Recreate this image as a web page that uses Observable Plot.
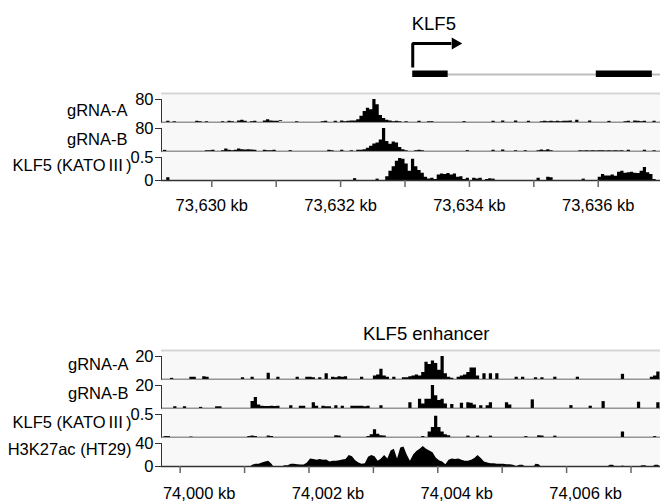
<!DOCTYPE html>
<html><head><meta charset="utf-8">
<script src="https://cdn.jsdelivr.net/npm/d3@7"></script>
<script src="https://cdn.jsdelivr.net/npm/@observablehq/plot@0.6"></script>
<style>
html,body{margin:0;padding:0;background:#fff;}
#chart{position:relative;width:660px;height:501px;overflow:hidden;}
#chart svg{position:absolute;left:0;overflow:visible;}
</style></head><body><div id="chart"></div>
<script>
// ---------------- data ----------------
const BIN = 0.05; // kb per signal bin

// top panel (KLF5 promoter)
const topDomain = [73629.219, 73636.967];
const topTicks = [73630, 73631, 73632, 73633, 73634, 73635, 73636];
const topTickLabels = [73630, 73632, 73634, 73636];
const topTrackNames = ["gRNA-A", "gRNA-B", "KLF5 (KATOⅢ)"];
const topTrackMax = [80, 80, 0.5];
const geneName = "KLF5";
const geneTSS = 73633.12;
const geneArrowBase = 73633.72;
const geneArrowHead = 73633.78;
const geneExonStart = [73633.12, 73635.97];
const geneExonEnd = [73633.67, 73636.84];
const geneEnd = 73638.0;

// runs: [start kb, [bin values ...]]
const topGrnaA = [
  [73629.30, [4, 0, 3]],
  [73629.75, [4, 3, 0, 3]],
  [73630.15, [3, 0, 4, 3, 0, 5, 8, 4]],
  [73630.60, [3, 4, 0, 0, 5, 10, 5, 4, 4]],
  [73631.05, [3, 0, 0, 0, 0, 3]],
  [73631.70, [3, 4, 0, 0, 4, 0, 5, 3, 4, 5, 5, 10, 22, 38, 50, 44, 80, 62, 24, 14, 8, 5, 3, 4, 3, 0, 3]],
  [73633.20, [4, 0, 0, 3, 3]],
  [73633.90, [3]],
  [73634.35, [4, 0, 0, 5, 0, 0, 0, 5, 0, 0, 0, 4]],
  [73635.10, [3, 4, 3, 4, 3, 4, 3, 4, 4, 5, 0, 8, 0, 0, 0, 5]],
  [73636.15, [4]],
  [73636.40, [3, 4, 0, 5, 4, 3, 4, 0, 0, 4]]
];
const topGrnaB = [
  [73629.25, [4]],
  [73629.90, [3, 3, 4]],
  [73630.15, [3, 9, 4, 3, 4, 9, 6, 5, 6, 5, 4, 0, 0, 4, 3, 3, 4]],
  [73631.20, [3]],
  [73631.80, [4, 3, 0, 0, 4, 0, 0, 3, 0, 4, 4, 6, 11, 18, 26, 30, 40, 80, 35, 25, 33, 30, 14, 6, 3]],
  [73633.15, [3, 4, 3]],
  [73633.95, [3]],
  [73634.35, [4, 0, 0, 5, 0, 0, 0, 3, 0, 0, 3]],
  [73635.05, [3, 5, 3, 6, 3]],
  [73635.70, [3, 2, 3, 2, 3, 2, 3, 3, 2, 3, 2, 3, 2, 3, 0, 4, 0, 0, 0, 0, 4, 0, 0, 3]]
];
const topKlf5 = [
  [73629.30, [0.06]],
  [73632.20, [0.04]],
  [73632.55, [0.03]],
  [73632.70, [0.08, 0.2, 0.3, 0.42, 0.48, 0.46, 0.36, 0.2, 0.46, 0.3, 0.22, 0.16, 0.07, 0.03, 0.05, 0.02, 0.12, 0.14, 0.13, 0.15, 0.12, 0.14, 0.07, 0.08, 0.02, 0.05, 0, 0.05, 0.03, 0.05, 0, 0.02, 0.04]],
  [73634.35, [0.03]],
  [73635.05, [0.05, 0, 0, 0.07, 0.06]],
  [73635.75, [0.03]],
  [73636.00, [0.07, 0.13, 0.1, 0.1, 0.12, 0.09, 0.18, 0.2, 0.16, 0.17, 0.18, 0.16, 0.15, 0.2, 0.28, 0.17, 0.13, 0.02]]
];

// bottom panel (KLF5 enhancer)
const botDomain = [73999.710, 74007.458];
const botTicks = [74000, 74001, 74002, 74003, 74004, 74005, 74006, 74007];
const botTickLabels = [74000, 74002, 74004, 74006];
const botTrackNames = ["gRNA-A", "gRNA-B", "KLF5 (KATOⅢ)", "H3K27ac (HT29)"];
const botTrackMax = [20, 20, 0.5, 40];
const enhancerName = "KLF5 enhancer";
const enhancerCenter = 74003.82;

const botGrnaA = [
  [73999.85, [1]],
  [74000.15, [2, 2, 0, 0, 2.5, 2]],
  [74000.95, [1.5, 0, 0, 2]],
  [74001.35, [5.5, 0, 0, 2]],
  [74001.80, [2, 0, 0, 2, 2, 1.5, 0, 1.5, 0, 5, 0, 2, 1.5, 2.5, 2, 2.5]],
  [74002.80, [2, 0, 0, 0, 3, 4, 9, 3, 2, 0, 2, 0, 0, 1.5, 1.5, 2.5, 3, 4, 3, 6, 15, 13, 16, 14, 8, 20, 5, 2, 1, 0, 2, 3, 4, 6, 10, 10, 3, 0, 5, 0, 5, 0, 5]],
  [74005.20, [2, 0, 2]],
  [74005.50, [1.5, 0, 1.5]],
  [74005.80, [2]],
  [74006.15, [2]],
  [74006.85, [4.5]],
  [74007.30, [2, 3, 6.5]]
];
const botGrnaB = [
  [73999.90, [1.5, 0, 0, 1.5]],
  [74000.30, [1]],
  [74000.55, [1.5, 1.5]],
  [74001.10, [6, 9.5, 3, 2, 1.8, 1.8, 2, 1.8, 2]],
  [74001.70, [2.5, 0, 0, 2, 2, 0, 0, 5, 2, 0, 2, 1.5, 1.5, 0, 2.5, 0, 2, 0, 0, 2, 2, 2, 2, 1.5, 2, 0, 0, 0, 2.5]],
  [74003.55, [5, 0, 0, 8, 4, 8, 8, 20, 11, 7, 8, 4, 0, 3.5, 0, 0, 4.5, 0, 5, 4.5, 3, 0, 2.5, 0, 2.5, 5]],
  [74005.05, [5, 3]],
  [74005.45, [7.5]],
  [74006.05, [2.5]],
  [74006.35, [2]],
  [74006.55, [6]],
  [74007.10, [5.5]],
  [74007.40, [5]]
];
const botKlf5 = [
  [73999.75, [0.02, 0.02]],
  [74000.15, [0.01]],
  [74001.05, [0.02, 0.03, 0.02]],
  [74001.35, [0.03, 0.02]],
  [74002.40, [0.04, 0.03]],
  [74002.90, [0.02, 0.06, 0.17, 0.07, 0.04, 0.03]],
  [74003.75, [0.02, 0, 0.12, 0.22, 0.46, 0.22, 0.12, 0.06, 0.04]],
  [74004.45, [0.03]],
  [74004.60, [0.03]],
  [74004.80, [0.03]],
  [74005.35, [0.02]],
  [74005.55, [0.04, 0.03]],
  [74005.80, [0.03]],
  [74006.85, [0.12]],
  [74007.35, [0.02]]
];
const botH3k27ac = [
  [74001.10, [2, 4, 4, 6, 8, 9, 4]],
  [74001.60, [1.5, 1.5, 4, 4, 3, 2.5, 2.5, 6, 13, 12, 11, 12, 11, 11.5, 8, 9, 9, 10, 11.5, 12, 19, 17, 10, 6, 4, 5, 16, 19, 17, 9, 13, 19, 13, 27, 30, 13, 32, 34, 20, 9, 20, 26, 30, 35, 30, 27, 24, 15, 10, 8, 3, 11, 13, 12, 13, 11, 9, 9, 11, 14, 19, 14, 8, 6, 5, 5, 4, 4, 4, 3, 3, 2, 0, 2, 2]],
  [74005.50, [4, 3]],
  [74006.65, [2, 2]],
  [74006.85, [1]],
  [74007.15, [1.5, 1.5]],
  [74007.35, [2, 2]]
];

// ---------------- drawing ----------------
const FONT = '"Liberation Sans", Arial, "Noto Sans CJK JP", sans-serif';
const CJK = '"Noto Sans CJK JP", "Noto Sans CJK SC", sans-serif';
const W = 660, ML = 161, TRACK_H = 29, TRACK_PAD = 6;
const chart = document.getElementById("chart");
const baseStyle = {background: "transparent", fontFamily: FONT, fontSize: "16.5px", color: "#000", overflow: "visible"};
const numFmt = d3.format("~g");

// render roman numerals with the CJK glyph and a little side spacing, as in the reference
function wideNumerals(svg) {
  svg.querySelectorAll("text").forEach(t => {
    const s = t.textContent;
    if (!/[\u2160-\u217F]/.test(s) || t.children.length) return;
    t.textContent = "";
    let after = false;
    s.split(/([\u2160-\u217F]+)/).forEach(part => {
      if (!part) return;
      const ts = document.createElementNS("http://www.w3.org/2000/svg", "tspan");
      ts.textContent = part;
      if (/[\u2160-\u217F]/.test(part)) { ts.setAttribute("font-family", CJK); ts.setAttribute("dx", "2"); after = true; }
      else if (after) ts.setAttribute("dx", "2");
      t.appendChild(ts);
    });
  });
}

function place(svg, top) { wideNumerals(svg); svg.style.top = top + "px"; chart.appendChild(svg); }

function toPoints(runs, smooth) {
  const pts = [];
  runs.forEach(([start, vals], k) => {
    if (!smooth) {
      vals.forEach((v, i) => pts.push({x: start + i * BIN, y: v, z: k}));
      pts.push({x: start + vals.length * BIN, y: vals[vals.length - 1], z: k});
    } else {
      pts.push({x: start, y: 0, z: k});
      vals.forEach((v, i) => pts.push({x: start + (i + 0.5) * BIN, y: v, z: k}));
      pts.push({x: start + vals.length * BIN, y: 0, z: k});
    }
  });
  return pts;
}

function track(o) {
  const ymax = o.max * TRACK_H / (TRACK_H - TRACK_PAD);
  const marks = [Plot.frame({fill: "#f8f8f8", stroke: null})];
  if (o.first) marks.push(Plot.ruleY([ymax], {stroke: "#d6d6d6", strokeWidth: 2}));
  marks.push(
    Plot.areaY(toPoints(o.runs, o.smooth), {x: "x", y: "y", z: "z", curve: o.smooth ? "linear" : "step-after", fill: "#000", clip: true}),
    Plot.ruleX([o.domain[0]], {y1: 0, y2: o.max, stroke: "#333", strokeWidth: 1}),
    Plot.ruleY([0], {stroke: "#333", strokeWidth: 1.5}),
    Plot.axisY({ticks: o.last ? [0, o.max] : [o.max], tickFormat: numFmt, tickSize: 6, tickPadding: 2, label: null, stroke: "#333", fill: "#000"}),
    Plot.text([o.name], {frameAnchor: "left", dx: o.labelRight - ML, dy: o.labelDy, textAnchor: "end", fill: "#000"})
  );
  return Plot.plot({
    width: W, height: TRACK_H, marginLeft: ML, marginRight: 0, marginTop: 0, marginBottom: 0,
    x: {domain: o.domain, axis: null},
    y: {domain: [0, ymax]},
    style: baseStyle,
    marks
  });
}

function xAxis(domain, ticks, labeled, labelDy, labelDx) {
  const fmt = d => d3.format(",")(d) + " kb";
  return Plot.plot({
    width: W, height: 40, marginLeft: ML, marginRight: 0, marginTop: 0, marginBottom: 40,
    x: {domain, label: null},
    style: baseStyle,
    marks: [
      Plot.axisX({ticks, tickSize: 7, tickFormat: () => "", stroke: "#666", strokeWidth: 1.5, label: null}),
      Plot.text(labeled, {x: d => d, text: fmt, frameAnchor: "bottom", lineAnchor: "top", dy: labelDy, dx: labelDx, fill: "#000"})
    ]
  });
}

// gene model (top header)
const exons = geneExonStart.map((s, i) => ({x1: s, x2: geneExonEnd[i]}));
const ROW = {title: 23.5, arrow: 43, stemBottom: 67, exonTop: 70.5, exonBottom: 77, intron: 74};
const geneSvg = Plot.plot({
  width: W, height: 93, marginLeft: ML, marginRight: 0, marginTop: 0, marginBottom: 0,
  x: {domain: topDomain, axis: null},
  y: {type: "identity", axis: null},
  style: baseStyle,
  marks: [
    Plot.ruleY([ROW.intron], {x1: geneTSS, x2: geneEnd, stroke: "#bdbdbd", strokeWidth: 2, clip: true}),
    Plot.rect(exons, {x1: "x1", x2: "x2", y1: ROW.exonTop, y2: ROW.exonBottom, fill: "#000", clip: true}),
    Plot.line([{x: geneTSS, y: ROW.stemBottom}, {x: geneTSS, y: ROW.arrow}, {x: geneArrowBase, y: ROW.arrow}],
      {x: "x", y: "y", stroke: "#000", strokeWidth: 3, strokeLinejoin: "miter", strokeLinecap: "butt"}),
    Plot.dot([geneArrowHead], {x: d => d, y: ROW.arrow, symbol: "triangle2", r: 5.8, rotate: 90, fill: "#000", stroke: null}),
    Plot.text([geneName], {x: geneTSS, y: ROW.title, textAnchor: "start", fontSize: 18.5, fill: "#000", dx: -1})
  ]
});
place(geneSvg, 0);

// top tracks
const topRuns = [topGrnaA, topGrnaB, topKlf5];
const TOP0 = 93;
const topLabelRight = [127, 127, 131];
const topLabelDy = [3, 3, -0.5];
topRuns.forEach((runs, i) => {
  place(track({runs, max: topTrackMax[i], name: topTrackNames[i], domain: topDomain,
    first: i === 0, last: i === topRuns.length - 1, smooth: false,
    labelRight: topLabelRight[i], labelDy: topLabelDy[i]}), TOP0 + i * TRACK_H);
});
place(xAxis(topDomain, topTicks, topTickLabels, 19, 0), TOP0 + topRuns.length * TRACK_H);

// bottom header
const headSvg = Plot.plot({
  width: W, height: 50, marginLeft: ML, marginRight: 0, marginTop: 0, marginBottom: 0,
  x: {domain: botDomain, axis: null},
  y: {type: "identity", axis: null},
  style: baseStyle,
  marks: [Plot.text([enhancerName], {x: enhancerCenter, y: 33.8, textAnchor: "middle", fontSize: 18.5, fill: "#000"})]
});
place(headSvg, 300);

// bottom tracks
const botRuns = [botGrnaA, botGrnaB, botKlf5, botH3k27ac];
const BOT0 = 350;
const botLabelRight = [128, 128, 131, 131];
const botLabelDy = [0, 0, -0.5, -2];
botRuns.forEach((runs, i) => {
  place(track({runs, max: botTrackMax[i], name: botTrackNames[i], domain: botDomain,
    first: i === 0, last: i === botRuns.length - 1, smooth: i === 3,
    labelRight: botLabelRight[i], labelDy: botLabelDy[i]}), BOT0 + i * TRACK_H);
});
place(xAxis(botDomain, botTicks, botTickLabels, 21, 19), BOT0 + botRuns.length * TRACK_H);
</script>
</body></html>
